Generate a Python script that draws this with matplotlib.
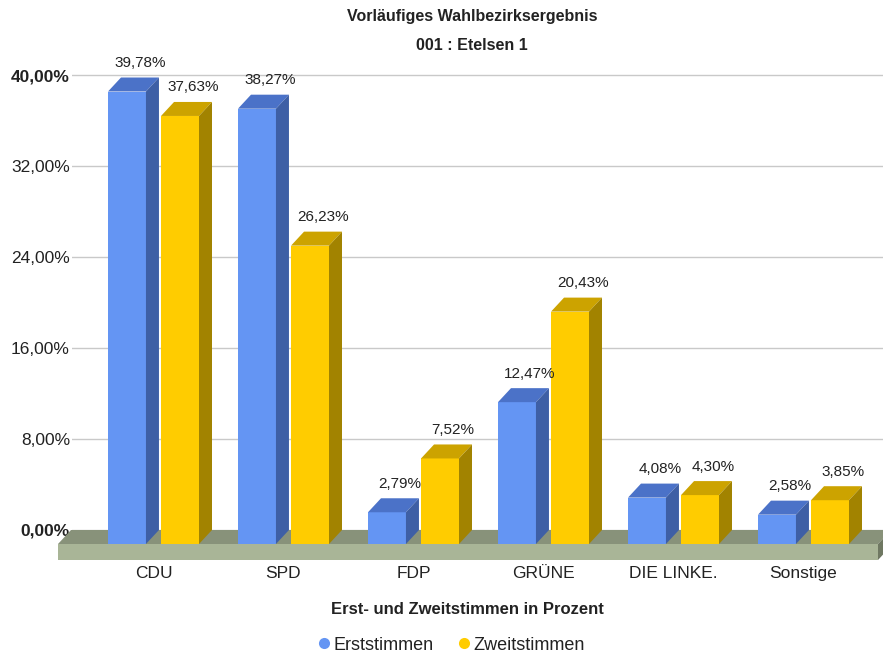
import matplotlib
matplotlib.use("Agg")
import matplotlib.pyplot as plt
from matplotlib.patches import Polygon
from matplotlib.lines import Line2D

# ---------------------------
# Data
# ---------------------------
PARTIES = ["CDU", "SPD", "FDP", "GRÜNE", "DIE LINKE.", "Sonstige"]
ERST = [39.78, 38.27, 2.79, 12.47, 4.08, 2.58]
ZWEIT = [37.63, 26.23, 7.52, 20.43, 4.30, 3.85]
SERIES = ["Erststimmen", "Zweitstimmen"]
YTICKS = [0, 8, 16, 24, 32, 40]

TITLE = "Vorläufiges Wahlbezirksergebnis"
SUBTITLE = "001 : Etelsen 1"
XLABEL = "Erst- und Zweitstimmen in Prozent"

# ---------------------------
# Style
# ---------------------------
W, H = 883, 657
PX_X = 130.0      # pixels per category
PX_Y = 11.375     # pixels per percent
DX = 13 / PX_X    # depth offset in x units
DY = 14 / PX_Y    # depth offset in y units
BAR_W = 0.292
OFFS = [-0.35, 0.058]

COLORS = {
    "Erststimmen": ("#6495f3", "#4b72c8", "#3e5fa5"),   # front, top, side
    "Zweitstimmen": ("#ffcc00", "#cca300", "#a28300"),
}
FLOOR_TOP = "#88927a"
FLOOR_FRONT = "#a9b597"
FLOOR_SIDE = "#6f7862"
TXT = "#222222"

plt.rcParams["font.family"] = ["Liberation Sans", "DejaVu Sans"]


def fmt(v):
    return f"{v:.2f}".replace(".", ",") + "%"


def draw_bar(ax, x0, v, colors):
    front, top, side = colors
    x1 = x0 + BAR_W
    ax.add_patch(Polygon([(x0, -DY), (x1, -DY), (x1, v - DY), (x0, v - DY)],
                         closed=True, fc=front, ec="none", zorder=3))
    ax.add_patch(Polygon([(x0, v - DY), (x1, v - DY), (x1 + DX, v), (x0 + DX, v)],
                         closed=True, fc=top, ec="none", zorder=3))
    ax.add_patch(Polygon([(x1, -DY), (x1 + DX, 0), (x1 + DX, v), (x1, v - DY)],
                         closed=True, fc=side, ec="none", zorder=3))
    ax.annotate(fmt(v), (x0 + DX + BAR_W / 2, v), xytext=(0, 14.5),
                textcoords="offset pixels", ha="center", va="center",
                fontsize=11, color=TXT, zorder=4)


def main():
    fig = plt.figure(figsize=(W / 100, H / 100), dpi=100)
    left_px, bottom_px = 72, 560
    ax = fig.add_axes([left_px / W, (H - bottom_px) / H,
                       (W - left_px) / W, bottom_px / H])

    xmin = (left_px - 153.5) / PX_X
    xmax = (W - 153.5) / PX_X
    ymin = -(bottom_px - 530) / PX_Y
    ymax = 530 / PX_Y
    ax.set_xlim(xmin, xmax)
    ax.set_ylim(ymin, ymax)

    for s in ax.spines.values():
        s.set_visible(False)
    ax.set_axisbelow(True)
    ax.yaxis.grid(True, color="#c9c9c9", lw=1)

    ax.set_yticks(YTICKS)
    ax.set_yticklabels([fmt(t) for t in YTICKS], fontsize=12.5, color=TXT)
    for lab, t in zip(ax.get_yticklabels(), YTICKS):
        if t in (0, 40):
            lab.set_fontweight("bold")
    ax.tick_params(axis="y", length=0, pad=1.5)

    ax.set_xticks(range(len(PARTIES)))
    ax.set_xticklabels(PARTIES, fontsize=12.5, color=TXT)
    ax.tick_params(axis="x", length=0, pad=4.5)

    # floor slab
    fl_x0 = (58 - 153.5) / PX_X
    fl_x1 = (878 - 153.5) / PX_X
    fl_y = ymin
    ax.add_patch(Polygon([(fl_x0, -DY), (fl_x1, -DY), (fl_x1 + DX, 0), (fl_x0 + DX, 0)],
                         closed=True, fc=FLOOR_TOP, ec="none", zorder=2, clip_on=False))
    ax.add_patch(Polygon([(fl_x0, fl_y), (fl_x1, fl_y), (fl_x1, -DY), (fl_x0, -DY)],
                         closed=True, fc=FLOOR_FRONT, ec="none", zorder=2, clip_on=False))
    ax.add_patch(Polygon([(fl_x1, fl_y), (fl_x1 + DX, fl_y + DY), (fl_x1 + DX, 0), (fl_x1, -DY)],
                         closed=True, fc=FLOOR_SIDE, ec="none", zorder=2, clip_on=False))

    for i in range(len(PARTIES)):
        for name, vals, off in zip(SERIES, [ERST, ZWEIT], OFFS):
            draw_bar(ax, i + off, vals[i], COLORS[name])

    fig.text(472 / W, 1 - 17 / H, TITLE, ha="center", va="center",
             fontsize=11.5, fontweight="bold", color=TXT)
    fig.text(472 / W, 1 - 45 / H, SUBTITLE, ha="center", va="center",
             fontsize=11.5, fontweight="bold", color=TXT)
    fig.text(467 / W, 1 - 609 / H, XLABEL, ha="center", va="center",
             fontsize=12, fontweight="bold", color=TXT)

    handles = [Line2D([], [], ls="none", marker="o", ms=8, mec="none",
                      mfc=COLORS[n][0]) for n in SERIES]
    fig.legend(handles, SERIES, loc="center", bbox_to_anchor=(450 / W, 1 - 645 / H),
               ncol=2, frameon=False, fontsize=13, handletextpad=0.0,
               columnspacing=1.2, handlelength=1.0, labelcolor=TXT)

    fig.savefig("out.png", dpi=100)


if __name__ == "__main__":
    main()
